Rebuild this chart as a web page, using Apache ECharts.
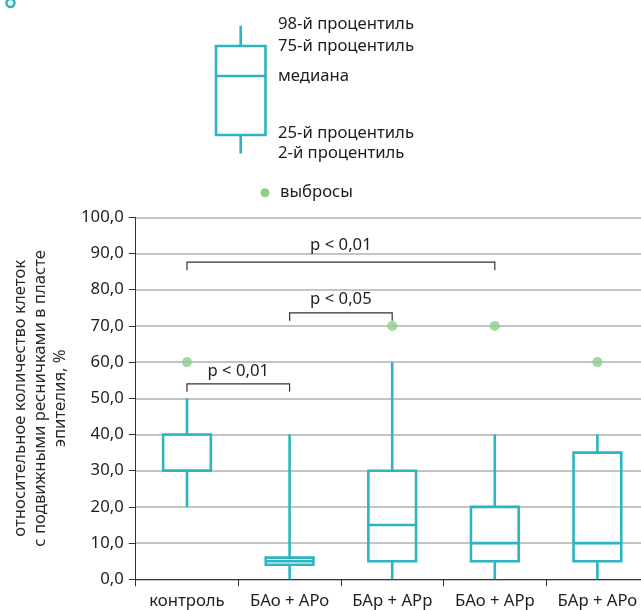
<!DOCTYPE html>
<html>
<head>
<meta charset="utf-8">
<script src="https://cdn.jsdelivr.net/npm/echarts@6/dist/echarts.min.js"></script>
<style>
html,body{margin:0;padding:0;background:#fff;}
#c{width:641px;height:610px;}
</style>
</head>
<body>
<div id="c"></div>
<script>
// ---- data ----
const categories = ['контроль', 'БАо + АРо', 'БАр + АРр', 'БАо + АРр', 'БАр + АРо'];
// [min(2-й), Q1(25-й), median, Q3(75-й), max(98-й)]
const boxMin    = [20, 0, 0, 0, 0];
const boxQ1     = [30, 4, 5, 5, 5];
const boxMedian = [30, 5, 15, 10, 10];
const boxQ3     = [40, 6, 30, 20, 35];
const boxMax    = [50, 40, 60, 40, 40];
const outlierCategory = [0, 2, 3, 4];
const outlierValue    = [60, 70, 70, 60];
// significance brackets: from category, to category, bracket level, label level, text
const bracketFrom  = [0, 1, 0];
const bracketTo    = [1, 2, 3];
const bracketLevel = [54, 73.6, 87.6];
const bracketLabelLevel = [57.6, 77.4, 92.4];
const bracketText  = ['p < 0,01', 'p < 0,05', 'p < 0,01'];
const yMin = 0, yMax = 100, yStep = 10;

const TEAL = '#2cb5c0';
const GREEN = '#8ccf88';
const FONT = 'Noto Sans';
const FS = 16.7;
const TXT = '#1e1e1e';

const boxData = categories.map((c, i) => [i, boxMin[i], boxQ1[i], boxMedian[i], boxQ3[i], boxMax[i]]);
const outlierData = outlierCategory.map((c, i) => [c, outlierValue[i]]);
const bracketData = bracketFrom.map((f, i) => [f, bracketTo[i], bracketLevel[i], bracketLabelLevel[i]]);

const chart = echarts.init(document.getElementById('c'), null, {renderer: 'canvas'});

const legendTexts = [
  ['98-й процентиль', 24],
  ['75-й процентиль', 46],
  ['медиана', 76],
  ['25-й процентиль', 133],
  ['2-й процентиль', 153],
  ['выбросы', 192]
];

const option = {
  animation: false,
  backgroundColor: '#fff',
  textStyle: {fontFamily: FONT},
  grid: {left: 135.7, top: 217.3, width: 513, bottom: 30.7, containLabel: false, outerBoundsMode: 'none'},
  xAxis: {
    type: 'category',
    data: categories,
    boundaryGap: true,
    axisLine: {lineStyle: {color: '#333', width: 1}},
    axisTick: {show: true, interval: 0, length: 7, lineStyle: {color: '#333'}},
    axisLabel: {interval: 0, hideOverlap: false, fontSize: FS, color: TXT, margin: 13, fontFamily: FONT},
    splitLine: {show: false}
  },
  yAxis: {
    type: 'value',
    min: yMin, max: yMax, interval: yStep,
    axisLine: {show: true, lineStyle: {color: '#333', width: 1}},
    axisTick: {show: true, length: 7, lineStyle: {color: '#333'}},
    axisLabel: {fontSize: FS, color: TXT, margin: 12, fontFamily: FONT,
      formatter: v => v.toFixed(1).replace('.', ',')},
    splitLine: {show: true, lineStyle: {color: '#b0b0b0', width: 1.5}},
    name: 'относительное количество клеток\nс подвижными ресничками в пласте\nэпителия, %',
    nameLocation: 'middle',
    nameGap: 64,
    nameTextStyle: {fontSize: FS, color: '#2a2a2a', lineHeight: 20, fontFamily: FONT}
  },
  series: [
    {
      type: 'custom',
      data: boxData,
      encode: {x: 0, y: [1, 2, 3, 4, 5]},
      z: 3,
      renderItem: function (params, api) {
        const x = api.value(0);
        const pMin = api.coord([x, api.value(1)]);
        const pQ1 = api.coord([x, api.value(2)]);
        const pMed = api.coord([x, api.value(3)]);
        const pQ3 = api.coord([x, api.value(4)]);
        const pMax = api.coord([x, api.value(5)]);
        const w = api.size([1, 0])[0] * 0.465;
        const cx = pQ1[0];
        const st = {stroke: TEAL, lineWidth: 2.6, fill: null};
        return {
          type: 'group',
          children: [
            {type: 'line', shape: {x1: cx, y1: pMin[1], x2: cx, y2: pQ1[1]}, style: st},
            {type: 'line', shape: {x1: cx, y1: pQ3[1], x2: cx, y2: pMax[1]}, style: st},
            {type: 'rect', shape: {x: cx - w / 2, y: pQ3[1], width: w, height: pQ1[1] - pQ3[1]}, style: st},
            {type: 'line', shape: {x1: cx - w / 2, y1: pMed[1], x2: cx + w / 2, y2: pMed[1]}, style: st}
          ]
        };
      }
    },
    {
      type: 'scatter',
      data: outlierData,
      symbolSize: 10,
      itemStyle: {color: GREEN},
      z: 4
    },
    {
      type: 'custom',
      data: bracketData,
      encode: {x: [0, 1], y: [2, 3]},
      clip: false,
      z: 5,
      renderItem: function (params, api) {
        const a = api.coord([api.value(0), api.value(2)]);
        const b = api.coord([api.value(1), api.value(2)]);
        const t = api.coord([api.value(0), api.value(3)]);
        const drop = 8;
        return {
          type: 'group',
          children: [
            {
              type: 'polyline',
              shape: {points: [[a[0], a[1] + drop], [a[0], a[1]], [b[0], a[1]], [b[0], a[1] + drop]]},
              style: {stroke: '#333', lineWidth: 1.2, fill: null}
            },
            {
              type: 'text',
              style: {
                text: bracketText[params.dataIndex],
                x: (a[0] + b[0]) / 2, y: t[1],
                textAlign: 'center', textVerticalAlign: 'middle',
                fontSize: FS, fill: TXT, fontFamily: FONT
              }
            }
          ]
        };
      }
    }
  ],
  graphic: [
    {type: 'circle', shape: {cx: 10.5, cy: 3, r: 4}, style: {fill: null, stroke: TEAL, lineWidth: 2.5}},
    {type: 'line', shape: {x1: 240.7, y1: 25.7, x2: 240.7, y2: 46}, style: {stroke: TEAL, lineWidth: 2.6}},
    {type: 'rect', shape: {x: 216, y: 46, width: 49.5, height: 89}, style: {fill: null, stroke: TEAL, lineWidth: 2.6}},
    {type: 'line', shape: {x1: 216, y1: 76, x2: 265.5, y2: 76}, style: {stroke: TEAL, lineWidth: 2.6}},
    {type: 'line', shape: {x1: 240.7, y1: 135, x2: 240.7, y2: 153.5}, style: {stroke: TEAL, lineWidth: 2.6}},
    {type: 'circle', shape: {cx: 265, cy: 192.7, r: 4.5}, style: {fill: GREEN}},
    ...legendTexts.map(([t, y], i) => ({
      type: 'text',
      style: {text: t, x: i === 5 ? 280 : 278, y: y, textVerticalAlign: 'middle', fontSize: FS, fill: TXT, fontFamily: FONT}
    }))
  ]
};
chart.setOption(option);
</script>
</body>
</html>
